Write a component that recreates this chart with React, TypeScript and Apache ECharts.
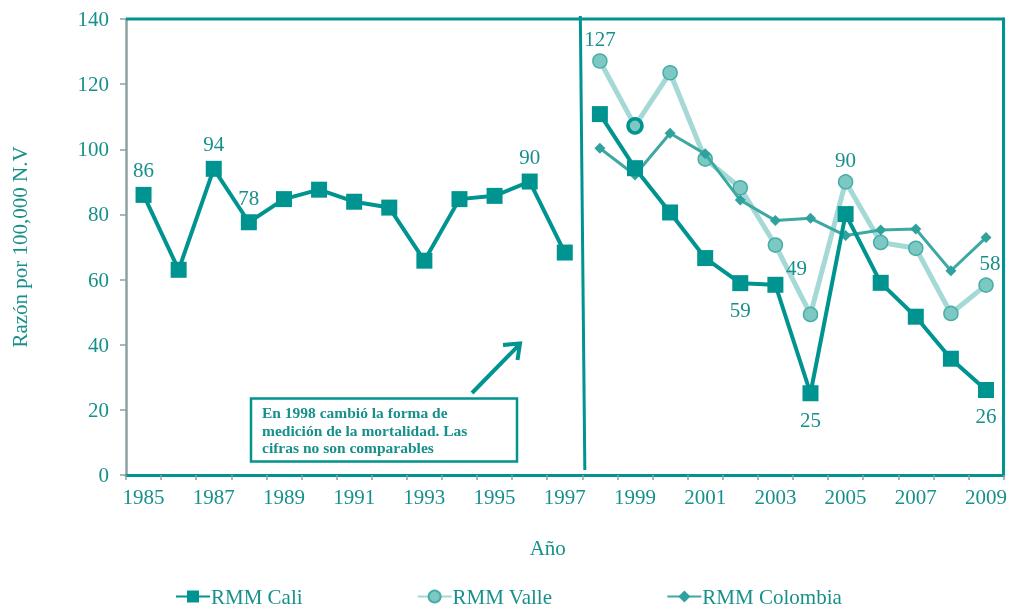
import React, { useEffect, useRef } from "react";
import * as echarts from "echarts";

const years = [
  "1985", "1986", "1987", "1988", "1989", "1990", "1991", "1992", "1993",
  "1994", "1995", "1996", "1997", "1998", "1999", "2000", "2001", "2002",
  "2003", "2004", "2005", "2006", "2007", "2008", "2009",
];
const earlyYears = years.slice(0, 13);
const lateYears = years.slice(13);

const caliEarly = [86, 63, 94, 77.6, 84.7, 87.6, 83.9, 82.1, 65.8, 84.7, 85.7, 90.1, 68.3];
const caliLate = [110.8, 94.2, 80.6, 66.6, 58.9, 58.4, 25.1, 80.1, 59, 48.6, 35.7, 26.1];
const valle = [127.1, 107.2, 123.5, 97, 88.2, 70.6, 49.3, 90, 71.4, 69.6, 49.6, 58.3];
const colombia = [100.3, 92.1, 104.9, 98.6, 84.4, 78.1, 78.8, 73.5, 75.2, 75.5, 62.7, 72.9];

const caliLabelsTop = ["1985", "1987", "1988", "1996"];
const caliLabelsBottom = ["2002", "2004", "2009"];
const valleLabelsTop = ["1998", "2005", "2009"];
const valleLabelLeft = ["2004"];
const valleRing = ["1999"];

const yMin = 0;
const yMax = 140;
const yStep = 20;

const TEAL = "#009490";
const TEXT = "#17908b";
const GRAY = "#8fa0a0";
const FONT = "'Liberation Serif', 'Times New Roman', serif";

export default function App() {
  const ref = useRef<HTMLDivElement>(null);

  useEffect(() => {
    if (!ref.current) return;
    const chart = echarts.init(ref.current, undefined, { renderer: "svg" });

    const labelStyle = { color: TEXT, fontFamily: FONT, fontSize: 21 };
    const fmt = (p: any) => String(Math.round(p.value));

    const caliData = (vals: number[], ys: string[]) =>
      years.map((y) => {
        const i = ys.indexOf(y);
        if (i < 0) return null;
        const item: any = { value: vals[i] };
        if (caliLabelsTop.includes(y)) {
          item.label = { show: true, position: "top", distance: 6, formatter: fmt, ...labelStyle };
        } else if (caliLabelsBottom.includes(y)) {
          item.label = { show: true, position: "bottom", distance: 8, formatter: fmt, ...labelStyle };
        }
        return item;
      });

    const valleData = years.map((y) => {
      const i = lateYears.indexOf(y);
      if (i < 0) return null;
      const item: any = { value: valle[i] };
      if (valleLabelsTop.includes(y)) {
        item.label = {
          show: true, position: "top", distance: 4, formatter: fmt, ...labelStyle,
          offset: y === "2009" ? [4, 0] : [0, 0],
        };
      } else if (valleLabelLeft.includes(y)) {
        item.label = { show: true, position: "top", distance: 4, offset: [-14, -24], formatter: fmt, ...labelStyle };
      }
      if (valleRing.includes(y)) {
        item.itemStyle = { borderColor: TEAL, borderWidth: 3.5, color: "#7cc8c3" };
      }
      return item;
    });

    const colombiaData = years.map((y) => {
      const i = lateYears.indexOf(y);
      return i < 0 ? null : colombia[i];
    });

    const option: any = {
      animation: false,
      textStyle: { fontFamily: FONT },
      grid: { left: 126, right: 6, top: 19, bottom: 134 },
      legend: {
        left: 170,
        top: 581,
        itemGap: 114,
        itemWidth: 34,
        itemHeight: 15,
        textStyle: { color: TEXT, fontFamily: FONT, fontSize: 21, padding: [0, 0, 0, -4] },
        data: ["RMM Cali", "RMM Valle", "RMM Colombia"],
      },
      xAxis: [
        {
          type: "category",
          data: years,
          boundaryGap: true,
          name: "Año",
          nameLocation: "middle",
          nameGap: 62,
          nameTextStyle: { color: TEXT, fontFamily: FONT, fontSize: 21, padding: [0, 34, 0, 0] },
          axisLine: { show: true, lineStyle: { color: GRAY, width: 2.5 } },
          axisTick: { show: true, interval: 0, length: 5, lineStyle: { color: GRAY, width: 1.5 } },
          axisLabel: { interval: 1, margin: 11, color: TEXT, fontFamily: FONT, fontSize: 21 },
          splitLine: { show: false },
        },
        {
          type: "category",
          data: years,
          position: "top",
          axisLine: { show: true, lineStyle: { color: TEAL, width: 3 } },
          axisTick: { show: false },
          axisLabel: { show: false },
          splitLine: { show: false },
        },
      ],
      yAxis: [
        {
          type: "value",
          min: yMin,
          max: yMax,
          interval: yStep,
          name: "Razón por 100,000 N.V",
          nameLocation: "middle",
          nameGap: 96,
          nameTextStyle: { color: TEXT, fontFamily: FONT, fontSize: 21 },
          axisLine: { show: true, lineStyle: { color: GRAY, width: 2.5 } },
          axisTick: { show: true, length: 6, lineStyle: { color: GRAY, width: 1.5 } },
          axisLabel: { margin: 17, color: TEXT, fontFamily: FONT, fontSize: 21 },
          splitLine: { show: false },
        },
        {
          type: "value",
          min: yMin,
          max: yMax,
          interval: yStep,
          position: "right",
          axisLine: { show: true, lineStyle: { color: TEAL, width: 3 } },
          axisTick: { show: false },
          axisLabel: { show: false },
          splitLine: { show: false },
        },
      ],
      series: [
        {
          name: "RMM Valle",
          type: "line",
          data: valleData,
          symbol: "circle",
          symbolSize: 14,
          lineStyle: { color: "#a5d9d5", width: 5 },
          itemStyle: { color: "#7cc8c3", borderColor: "#48aca7", borderWidth: 1.5 },
          z: 2,
        },
        {
          name: "RMM Colombia",
          type: "line",
          data: colombiaData,
          symbol: "diamond",
          symbolSize: 11,
          lineStyle: { color: "#3ea8a3", width: 3 },
          itemStyle: { color: "#2fa29d" },
          z: 3,
        },
        {
          name: "RMM Cali",
          type: "line",
          data: caliData(caliEarly, earlyYears),
          symbol: "rect",
          symbolSize: 16,
          lineStyle: { color: TEAL, width: 4 },
          itemStyle: { color: TEAL },
          z: 4,
        },
        {
          name: "RMM Cali",
          type: "line",
          data: caliData(caliLate, lateYears),
          symbol: "rect",
          symbolSize: 16,
          lineStyle: { color: TEAL, width: 4 },
          itemStyle: { color: TEAL },
          z: 4,
        },
      ],
    };

    chart.setOption(option);

    const x97 = chart.convertToPixel({ xAxisIndex: 0 }, "1997") as number;
    const x98 = chart.convertToPixel({ xAxisIndex: 0 }, "1998") as number;
    const xFirst = chart.convertToPixel({ xAxisIndex: 0 }, years[0]) as number;
    const xLast = chart.convertToPixel({ xAxisIndex: 0 }, years[years.length - 1]) as number;
    const band = x98 - x97;
    const xMid = (x97 + x98) / 2;
    const yTop = chart.convertToPixel({ yAxisIndex: 0 }, yMax) as number;
    const yBot = chart.convertToPixel({ yAxisIndex: 0 }, yMin) as number;

    chart.setOption({
      graphic: [
        {
          type: "polyline",
          shape: {
            points: [
              [xFirst - band / 2, yTop],
              [xLast + band / 2, yTop],
              [xLast + band / 2, yBot],
            ],
          },
          style: { stroke: TEAL, lineWidth: 3, fill: null },
          z: 1,
        },
        {
          type: "line",
          shape: { x1: xMid - 2, y1: yTop - 3, x2: xMid + 2.5, y2: yBot - 5 },
          style: { stroke: TEAL, lineWidth: 3 },
          z: 10,
        },
        {
          type: "rect",
          shape: { x: 251, y: 398.5, width: 266, height: 63 },
          style: { fill: "#fff", stroke: TEAL, lineWidth: 2.5 },
          z: 10,
        },
        {
          type: "text",
          x: 262,
          y: 404,
          style: {
            text: "En 1998 cambió la forma de\nmedición de la mortalidad. Las\ncifras no son comparables",
            fill: TEXT,
            font: "bold 15.5px " + FONT,
            lineHeight: 17.5,
          },
          z: 11,
        },
        {
          type: "line",
          shape: { x1: 472, y1: 393, x2: 519, y2: 345 },
          style: { stroke: TEAL, lineWidth: 4, lineCap: "butt" },
          z: 10,
        },
        {
          type: "polyline",
          shape: { points: [[503, 345], [520, 343.5], [517.5, 360]] },
          style: { stroke: TEAL, lineWidth: 4, fill: null, lineJoin: "miter" },
          z: 10,
        },
      ],
    });

    return () => chart.dispose();
  }, []);

  return (
    <div
      ref={ref}
      style={{ position: "fixed", left: 0, top: 0, width: 1010, height: 609 }}
    />
  );
}
